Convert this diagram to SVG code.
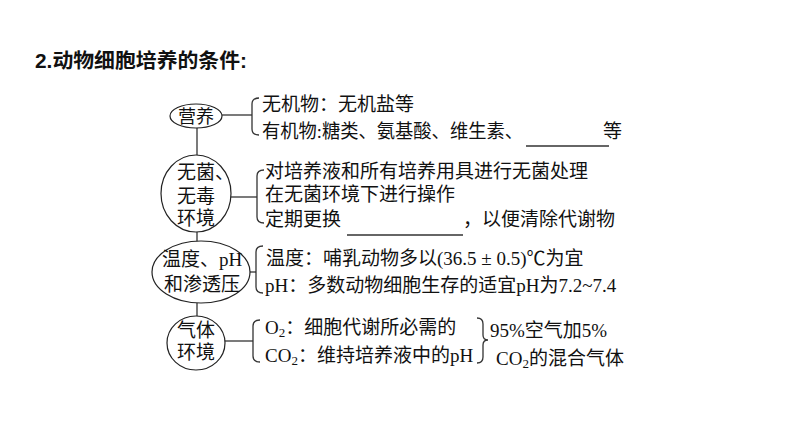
<svg xmlns="http://www.w3.org/2000/svg" width="794" height="446" viewBox="0 0 794 446">
<style>
.t{font-family:"Liberation Serif","Noto Sans CJK SC",serif;font-size:19px;fill:#111;}
.n{font-family:"Liberation Serif","Noto Sans CJK SC",serif;font-size:19px;fill:#111;}
.title{font-family:"Liberation Sans","Noto Sans CJK SC",sans-serif;font-size:20px;font-weight:bold;fill:#111;}
.e{fill:#fff;stroke:#222;stroke-width:1.2;}
.c{fill:none;stroke:#333;stroke-width:1.3;}
.sub{font-size:13px;}
</style>
<rect width="794" height="446" fill="#fff"/>
<text class="title" x="35" y="68" textLength="212" lengthAdjust="spacingAndGlyphs">2.动物细胞培养的条件:</text>

<g id="connectors">
<line class="c" x1="197" y1="128" x2="197" y2="155"/>
<line class="c" x1="197" y1="232" x2="197" y2="242"/>
<line class="c" x1="197" y1="303" x2="197" y2="316"/>
<line class="c" x1="222" y1="115" x2="252" y2="115"/>
<line class="c" x1="231" y1="197" x2="257" y2="197"/>
<line class="c" x1="250" y1="272" x2="256" y2="272"/>
<line class="c" x1="225" y1="341" x2="253" y2="341"/>
<path class="c" d="M259,98 Q252,98 252,104 L252,129 Q252,135 259,135"/>
<path class="c" d="M264,170 Q257,170 257,176 L257,217 Q257,223 264,223"/>
<path class="c" d="M263,246 Q256,246 256,252 L256,287 Q256,293 263,293"/>
<path class="c" d="M260,320 Q253,320 253,326 L253,356 Q253,362 260,362"/>
<path class="c" d="M477,318 Q483,318 483,324 L483,335 Q483,340 488,340 Q483,340 483,345 L483,357 Q483,363 477,363"/>
</g>

<g id="node-nutrition">
<ellipse class="e" cx="196" cy="116" rx="26" ry="12"/>
<text class="n" x="196" y="122.5" text-anchor="middle" style="font-size:18px">营养</text>
</g>
<g id="node-sterile">
<ellipse class="e" cx="196" cy="193.5" rx="35" ry="38.5"/>
<text class="n" x="177" y="179">无菌、</text>
<text class="n" x="177" y="203">无毒</text>
<text class="n" x="177" y="225">环境</text>
</g>
<g id="node-temp">
<ellipse class="e" cx="201" cy="272" rx="49" ry="31"/>
<text class="n" x="202" y="266" text-anchor="middle">温度、pH</text>
<text class="n" x="202" y="291" text-anchor="middle">和渗透压</text>
</g>
<g id="node-gas">
<ellipse class="e" cx="196" cy="343" rx="29" ry="27"/>
<text class="n" x="196" y="337" text-anchor="middle">气体</text>
<text class="n" x="196" y="359" text-anchor="middle">环境</text>
</g>

<g id="texts">
<text class="t" x="262" y="111">无机物：无机盐等</text>
<text class="t" x="262" y="138" textLength="261" lengthAdjust="spacingAndGlyphs">有机物:糖类、氨基酸、维生素、</text>
<line class="c" x1="526" y1="146" x2="609" y2="146"/>
<text class="t" x="603" y="138">等</text>

<text class="t" x="265" y="178">对培养液和所有培养用具进行无菌处理</text>
<text class="t" x="265" y="201">在无菌环境下进行操作</text>
<text class="t" x="265" y="226">定期更换</text>
<line class="c" x1="347" y1="235" x2="463" y2="235"/>
<text class="t" x="463" y="226">，以便清除代谢物</text>

<text class="t" x="266" y="265">温度：哺乳动物多以(36.5 ± 0.5)℃为宜</text>
<text class="t" x="265" y="292">pH：多数动物细胞生存的适宜pH为7.2~7.4</text>

<text class="t" x="265" y="334">O<tspan class="sub" dy="3">2</tspan><tspan dy="-3">：细胞代谢所必需的</tspan></text>
<text class="t" x="265" y="362">CO<tspan class="sub" dy="3">2</tspan><tspan dy="-3">：维持培养液中的pH</tspan></text>
<text class="t" x="490" y="337">95%空气加5%</text>
<text class="t" x="496" y="365">CO<tspan class="sub" dy="3">2</tspan><tspan dy="-3">的混合气体</tspan></text>
</g>
</svg>
